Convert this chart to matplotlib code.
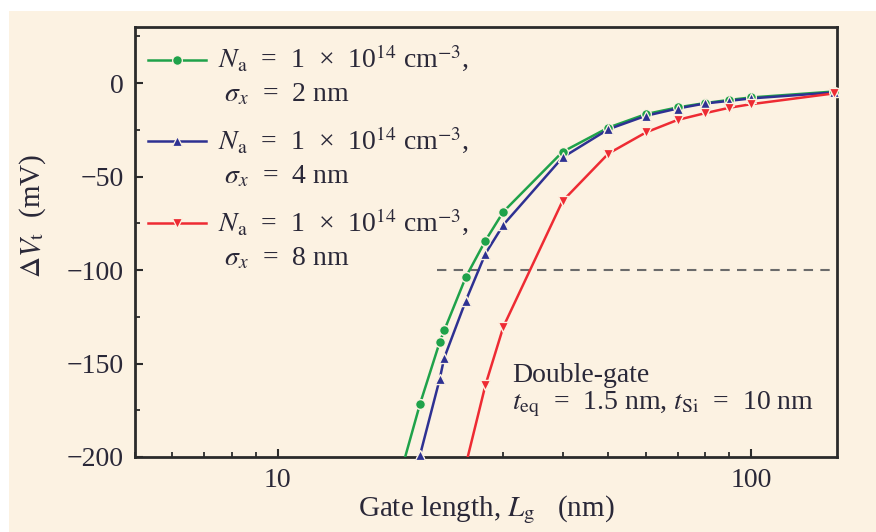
import matplotlib
matplotlib.use('Agg')
import numpy as np
import matplotlib.pyplot as plt
from matplotlib.ticker import LogLocator, MultipleLocator, NullFormatter, FuncFormatter
from matplotlib.patches import Rectangle
from matplotlib.legend_handler import HandlerLine2D

# ---------------- data ----------------
lg_s2 = [18, 20, 22, 22.5, 25, 27.5, 30, 40, 50, 60, 70, 80, 90, 100, 150]
dvt_s2 = [-213, -171.6, -138.7, -132.3, -103.7, -84.2, -68.8, -36.8, -23.8,
          -16.6, -13.0, -10.7, -9.0, -7.7, -4.5]

lg_s4 = [20, 22, 22.5, 25, 27.5, 30, 40, 50, 60, 70, 80, 90, 100, 150]
dvt_s4 = [-199, -158.5, -147.0, -116.3, -91.2, -75.8, -39.8, -24.7, -17.5,
          -13.6, -10.9, -9.5, -8.2, -5.0]

lg_s8 = [25, 27.5, 30, 40, 50, 60, 70, 80, 90, 100, 150]
dvt_s8 = [-204, -161.4, -130.3, -63.1, -37.7, -26.4, -19.7, -16.1, -13.2,
          -11.3, -5.5]

labels = [
    "$N_{\\rm a}$  =  1  \u00d7  10$^{14}$ cm$^{-3}$,\n $\\sigma_x$  =  2 nm",
    "$N_{\\rm a}$  =  1  \u00d7  10$^{14}$ cm$^{-3}$,\n $\\sigma_x$  =  4 nm",
    "$N_{\\rm a}$  =  1  \u00d7  10$^{14}$ cm$^{-3}$,\n $\\sigma_x$  =  8 nm",
]
ref_level = -100
ref_start = 21.7
annotation = "Double-gate\n$t_{\\rm eq}$  =  1.5 nm, $t_{\\rm Si}$  =  10 nm"

# ---------------- style ----------------
plt.rcParams['font.family'] = ['Liberation Serif', 'DejaVu Serif']
plt.rcParams['mathtext.fontset'] = 'stix'

BG = '#fcf2e2'
INK = '#2b2b2b'
TXT = '#2a2838'
colors = ['#1fa24a', '#2e3192', '#ee2b33']
markers = ['o', '^', 'v']
FS = 20


class RaisedHandler(HandlerLine2D):
    def __init__(self, dy=0, **kw):
        super().__init__(**kw)
        self.dy = dy

    def create_artists(self, legend, orig_handle, xdescent, ydescent, width,
                       height, fontsize, trans):
        return super().create_artists(legend, orig_handle, xdescent,
                                      ydescent - self.dy, width, height,
                                      fontsize, trans)


fig = plt.figure(figsize=(8.76, 5.32), dpi=100, facecolor='white')
fig.patches.append(Rectangle((9 / 876, 0), 1, 1 - 11 / 532, transform=fig.transFigure,
                             facecolor=BG, edgecolor='none', zorder=-10))
ax = fig.add_axes([135 / 876, 75 / 532, 702 / 876, 430 / 532])
ax.set_facecolor(BG)

ax.set_xscale('log')
ax.set_xlim(5, 152)
ax.set_ylim(-200, 30)
ymin = ax.get_ylim()[0]

series = [(lg_s2, dvt_s2), (lg_s4, dvt_s4), (lg_s8, dvt_s8)]
handles = []
for (xs, ys), c, m, lab in zip(series, colors, markers, labels):
    h, = ax.plot(xs, ys, color=c, lw=1.8, marker=m, ms=7, mec=BG, mew=0.9,
                 label=lab, zorder=3)
    handles.append(h)
    xa = np.array(xs, dtype=float)
    ya = np.array(ys, dtype=float)
    keep = ya >= ymin - 1.5
    ax.plot(xa[keep], ya[keep], ls='none', color=c, marker=m, ms=7, mec=BG,
            mew=0.9, clip_on=False, zorder=4)

ax.plot([ref_start, ax.get_xlim()[1]], [ref_level, ref_level], ls=(0, (4.5, 3.5)),
        color='#6b6b6b', lw=1.5, zorder=2)

for s in ax.spines.values():
    s.set_linewidth(2.0)
    s.set_color(INK)

ax.xaxis.set_major_locator(LogLocator(base=10))
ax.xaxis.set_major_formatter(FuncFormatter(lambda v, p: f"{v:g}"))
ax.xaxis.set_minor_locator(LogLocator(base=10, subs=np.arange(2, 10)))
ax.xaxis.set_minor_formatter(NullFormatter())
ax.yaxis.set_major_locator(MultipleLocator(50))
ax.yaxis.set_minor_locator(MultipleLocator(25))

ax.tick_params(which='both', direction='in', top=False, right=False,
               color=INK, labelcolor=TXT, labelsize=FS, pad=8)
ax.tick_params(which='major', length=6, width=1.5)
ax.tick_params(which='minor', length=3.5, width=1.3)

ax.set_xlabel("Gate length, $L_{\\rm g}$   (nm)", fontsize=21, color=TXT, labelpad=0)
ax.set_ylabel("$\\Delta V_{\\rm t}$  (mV)", fontsize=21, color=TXT, labelpad=2)
ax.yaxis.set_label_coords(-0.124, 0.56)

leg = ax.legend(handles=handles, loc='upper left', bbox_to_anchor=(0, 0.993),
                frameon=False, fontsize=FS, handlelength=2.1, handletextpad=0.45,
                labelspacing=0.6, borderaxespad=0.25, borderpad=0.2,
                handler_map={h: RaisedHandler(dy=22) for h in handles})
for t in leg.get_texts():
    t.set_linespacing(1.45)
    t.set_color(TXT)

ax.text(0.537, 0.218, annotation,
        transform=ax.transAxes, ha='left', va='top', fontsize=FS,
        color=TXT, linespacing=1.05)

fig.savefig('out.png', dpi=100, facecolor=fig.get_facecolor())
